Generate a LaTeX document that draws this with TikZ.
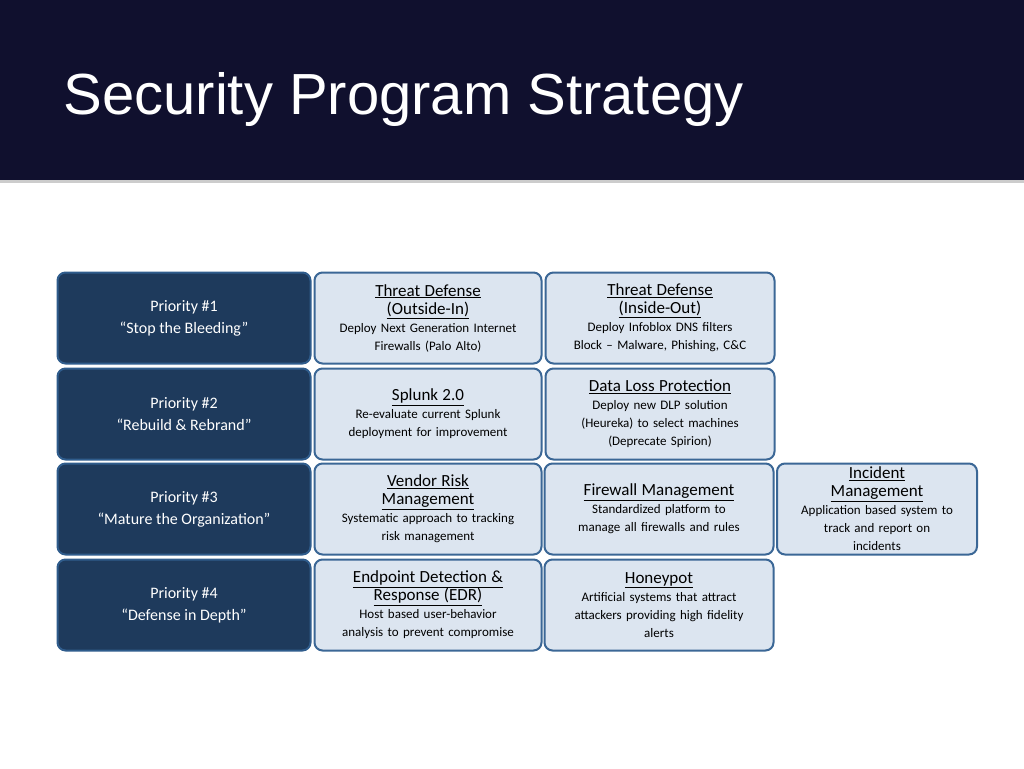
\documentclass[tikz,border=0pt]{standalone}
\usepackage{fontspec}
\setmainfont{Carlito}
\newfontfamily\titlefont{Liberation Sans}
\definecolor{navy}{HTML}{10102E}
\definecolor{darkbox}{HTML}{1E3A5C}
\definecolor{darkedge}{HTML}{2F5C8C}
\definecolor{lightbox}{HTML}{DCE5F0}
\definecolor{lightedge}{HTML}{3B6796}
\tikzset{
  prio/.style={draw=darkedge, fill=darkbox, line width=2pt, rounded corners=8pt,
    text=white, align=center, font=\fontsize{16}{22}\selectfont,
    minimum height=91pt, inner sep=2pt},
  item/.style={draw=lightedge, fill=lightbox, line width=2pt, rounded corners=8pt,
    align=center, font=\fontsize{13}{18}\selectfont,
    minimum height=91pt, inner sep=2pt},
  head/.style={font=\fontsize{17}{23}\selectfont}
}
\newcommand{\hd}[1]{{\fontsize{17}{23}\selectfont\underline{#1}}}
\begin{document}
\begin{tikzpicture}[x=1pt,y=-1pt]
  \useasboundingbox[fill=white] (0,0) rectangle (1024,768);
  \fill[navy] (0,0) rectangle (1024,180);
  \fill[gray!40] (0,180) rectangle (1024,183);
  \node[anchor=west, text=white, font=\titlefont\fontsize{58}{64}\selectfont] (title) at (60,100) {Security Program Strategy};
  % priorities
  \node[prio, minimum width=253pt] (p1) at (184,318) {Priority \#1\\``Stop the Bleeding''};
  \node[prio, minimum width=253pt] (p2) at (184,414) {Priority \#2\\``Rebuild \& Rebrand''};
  \node[prio, minimum width=253pt] (p3) at (184,509) {Priority \#3\\``Mature the Organization''};
  \node[prio, minimum width=253pt] (p4) at (184,605) {Priority \#4\\``Defense in Depth''};
  % second column
  \node[item, minimum width=227pt, text width=215pt] (a1) at (428,318) {\hd{Threat Defense}\\\hd{(Outside-In)}\\Deploy Next Generation Internet\\Firewalls (Palo Alto)};
  \node[item, minimum width=227pt, text width=215pt] (a2) at (428,414) {\hd{Splunk 2.0}\\Re-evaluate current Splunk\\deployment for improvement};
  \node[item, minimum width=227pt, text width=215pt] (a3) at (428,509) {\hd{Vendor Risk}\\\hd{Management}\\Systematic approach to tracking\\risk management};
  \node[item, minimum width=227pt, text width=215pt] (a4) at (428,605) {\hd{Endpoint Detection \&}\\\hd{Response (EDR)}\\Host based user-behavior\\analysis to prevent compromise};
  % third column
  \node[item, minimum width=229pt, text width=217pt] (b1) at (660,318) {\hd{Threat Defense}\\\hd{(Inside-Out)}\\Deploy Infoblox DNS filters\\Block -- Malware, Phishing, C\&C};
  \node[item, minimum width=229pt, text width=217pt] (b2) at (660,414) {\hd{Data Loss Protection}\\Deploy new DLP solution\\(Heureka) to select machines\\(Deprecate Spirion)};
  \node[item, minimum width=229pt, text width=217pt] (b3) at (659,509) {\hd{Firewall Management}\\Standardized platform to\\manage all firewalls and rules};
  \node[item, minimum width=229pt, text width=217pt] (b4) at (659,605) {\hd{Honeypot}\\Artificial systems that attract\\attackers providing high fidelity\\alerts};
  % fourth column
  \node[item, minimum width=200pt, text width=190pt] (c3) at (877,509) {\hd{Incident}\\\hd{Management}\\Application based system to\\track and report on\\incidents};
\end{tikzpicture}
\end{document}
